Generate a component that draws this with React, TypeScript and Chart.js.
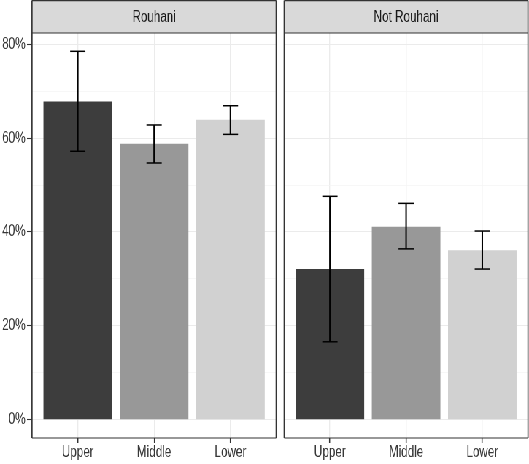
import { useEffect, useRef } from 'react';
import { Chart, registerables } from 'chart.js';

Chart.register(...registerables);

// categories and bar fills (scale_fill_grey)
const categories = ['Upper', 'Middle', 'Lower'];
const barColors  = ['#3d3d3d', '#989898', '#d1d1d1'];

// Rouhani panel: share (%) with interval bounds
const rouhaniShare = [67.8, 58.8, 63.9];
const rouhaniLow   = [57.2, 54.7, 60.8];
const rouhaniHigh  = [78.5, 62.8, 66.9];

// Not Rouhani panel
const notRouhaniShare = [32.1, 41.1, 36.1];
const notRouhaniLow   = [16.6, 36.4, 32.1];
const notRouhaniHigh  = [47.6, 46.1, 40.2];

// y grid: majors are labelled, minors only get a faint line
const yMajorTicks = [0, 20, 40, 60, 80];
const yMinorTicks = [10, 30, 50, 70];

// the reference text is horizontally squeezed, so the whole figure is drawn
// wider and compressed with a CSS scaleX
const OUT_W  = 529;
const DRAW_W = 725;
const SX     = OUT_W / DRAW_W;
const px     = (v: number) => v / SX; // output px -> drawing px (horizontal)

const font     = { family: "'Liberation Sans', Arial, sans-serif", size: 16 };
const inkDark  = '#333333';
const tickText = '#383838';

interface PanelProps {
  title:    string;
  share:    number[];
  low:      number[];
  high:     number[];
  showY:    boolean;
  width:    number;
  padLeft:  number;
  padRight: number;
}

function Panel({ title, share, low, high, showY, width, padLeft, padRight }: PanelProps) {
  const ref = useRef<HTMLCanvasElement>(null);

  useEffect(() => {
    if (!ref.current) return;

    const facetPlugin = {
      id: 'facet',
      afterDraw(chart: Chart) {
        const { ctx, chartArea: a, scales } = chart;
        const xs = scales.x, ys = scales.y;
        const meta = chart.getDatasetMeta(0);
        const cap = Math.abs(xs.getPixelForValue(0.1) - xs.getPixelForValue(0));
        const line = (x1: number, y1: number, x2: number, y2: number, w: number) => {
          ctx.lineWidth = w;
          ctx.beginPath(); ctx.moveTo(x1, y1); ctx.lineTo(x2, y2); ctx.stroke();
        };

        ctx.save();
        // error bars
        ctx.strokeStyle = '#000';
        meta.data.forEach((bar: any, i: number) => {
          const yl = ys.getPixelForValue(low[i]);
          const yh = ys.getPixelForValue(high[i]);
          line(bar.x, yl, bar.x, yh, px(1.5));
          line(bar.x - cap, yl, bar.x + cap, yl, 1.5);
          line(bar.x - cap, yh, bar.x + cap, yh, 1.5);
        });

        // strip
        const sTop = 0.6;
        ctx.fillStyle = '#d9d9d9';
        ctx.fillRect(a.left, sTop, a.right - a.left, a.top - sTop);
        ctx.fillStyle = '#1a1a1a';
        ctx.font = `${font.size}px ${font.family}`;
        ctx.textAlign = 'center';
        ctx.textBaseline = 'middle';
        ctx.fillText(title, (a.left + a.right) / 2, a.top / 2 + 1);

        // panel + strip borders
        ctx.strokeStyle = inkDark;
        const bw = 1.2;
        line(a.left, sTop, a.right, sTop, bw);
        line(a.left, a.top, a.right, a.top, bw);
        line(a.left, a.bottom, a.right, a.bottom, bw);
        line(a.left, sTop, a.left, a.bottom, px(bw));
        line(a.right, sTop, a.right, a.bottom, px(bw));
        ctx.restore();
      },
    };

    const chart = new Chart(ref.current, {
      type: 'bar',
      data: {
        datasets: [{
          data:            share.map((v, i) => ({ x: i, y: v })),
          backgroundColor: barColors,
          borderWidth:     0,
          categoryPercentage: 1,
          barPercentage:      0.9,
        }],
      },
      options: {
        responsive: false,
        animation:  false,
        devicePixelRatio: 1,
        layout: { padding: { top: 33, left: padLeft, right: padRight, bottom: 0 } },
        plugins: { legend: { display: false }, tooltip: { enabled: false } },
        scales: {
          x: {
            type: 'linear',
            min: -0.6,
            max: 2.6,
            offset: false,
            afterBuildTicks: (s: any) => { s.ticks = categories.map((_, i) => ({ value: i })); },
            afterFit: (s: any) => { s.height = 26; },
            border: { display: false },
            grid: {
              offset: false,
              color: '#ebebeb',
              lineWidth: px(1),
              tickLength: 5,
              tickColor: inkDark,
              tickWidth: px(1.1),
            },
            ticks: {
              font,
              color: tickText,
              padding: 0,
              maxRotation: 0,
              callback: (v: any) => categories[v] ?? '',
            },
          },
          y: {
            type: 'linear',
            min: -3.9,
            max: 82.4,
            afterBuildTicks: (s: any) => {
              s.ticks = [...yMajorTicks, ...yMinorTicks].sort((a, b) => a - b).map(v => ({ value: v }));
            },
            afterFit: (s: any) => { s.width = showY ? px(32) : 0; },
            border: { display: false },
            grid: {
              color: (c: any) => (yMajorTicks.includes(c.tick?.value) ? '#ebebeb' : '#f3f3f3'),
              lineWidth: (c: any) => (yMajorTicks.includes(c.tick?.value) ? 1 : 0.7),
              drawTicks: showY,
              tickLength: px(5),
              tickColor: (c: any) => (yMajorTicks.includes(c.tick?.value) ? inkDark : 'rgba(0,0,0,0)'),
              tickWidth: 1.1,
            },
            ticks: {
              display: showY,
              font,
              color: tickText,
              padding: px(1.5),
              callback: (v: any) => (yMajorTicks.includes(v) ? `${v}%` : ''),
            },
          },
        },
      },
      plugins: [facetPlugin],
    });
    return () => chart.destroy();
  }, [title, share, low, high, showY, width, padLeft, padRight]);

  return <canvas ref={ref} width={width} height={464} style={{ display: 'block' }} />;
}

export default function App() {
  const leftW = Math.round(px(280));
  return (
    <div style={{ position: 'fixed', left: 0, top: 0, width: OUT_W, height: 464, overflow: 'hidden', background: '#fff' }}>
      <div style={{ width: DRAW_W, height: 464, display: 'flex', transform: `scaleX(${SX})`, transformOrigin: '0 0' }}>
        <Panel title="Rouhani" share={rouhaniShare} low={rouhaniLow} high={rouhaniHigh}
               showY width={leftW} padLeft={0} padRight={px(4)} />
        <Panel title="Not Rouhani" share={notRouhaniShare} low={notRouhaniLow} high={notRouhaniHigh}
               showY={false} width={DRAW_W - leftW} padLeft={px(4)} padRight={px(1)} />
      </div>
    </div>
  );
}
